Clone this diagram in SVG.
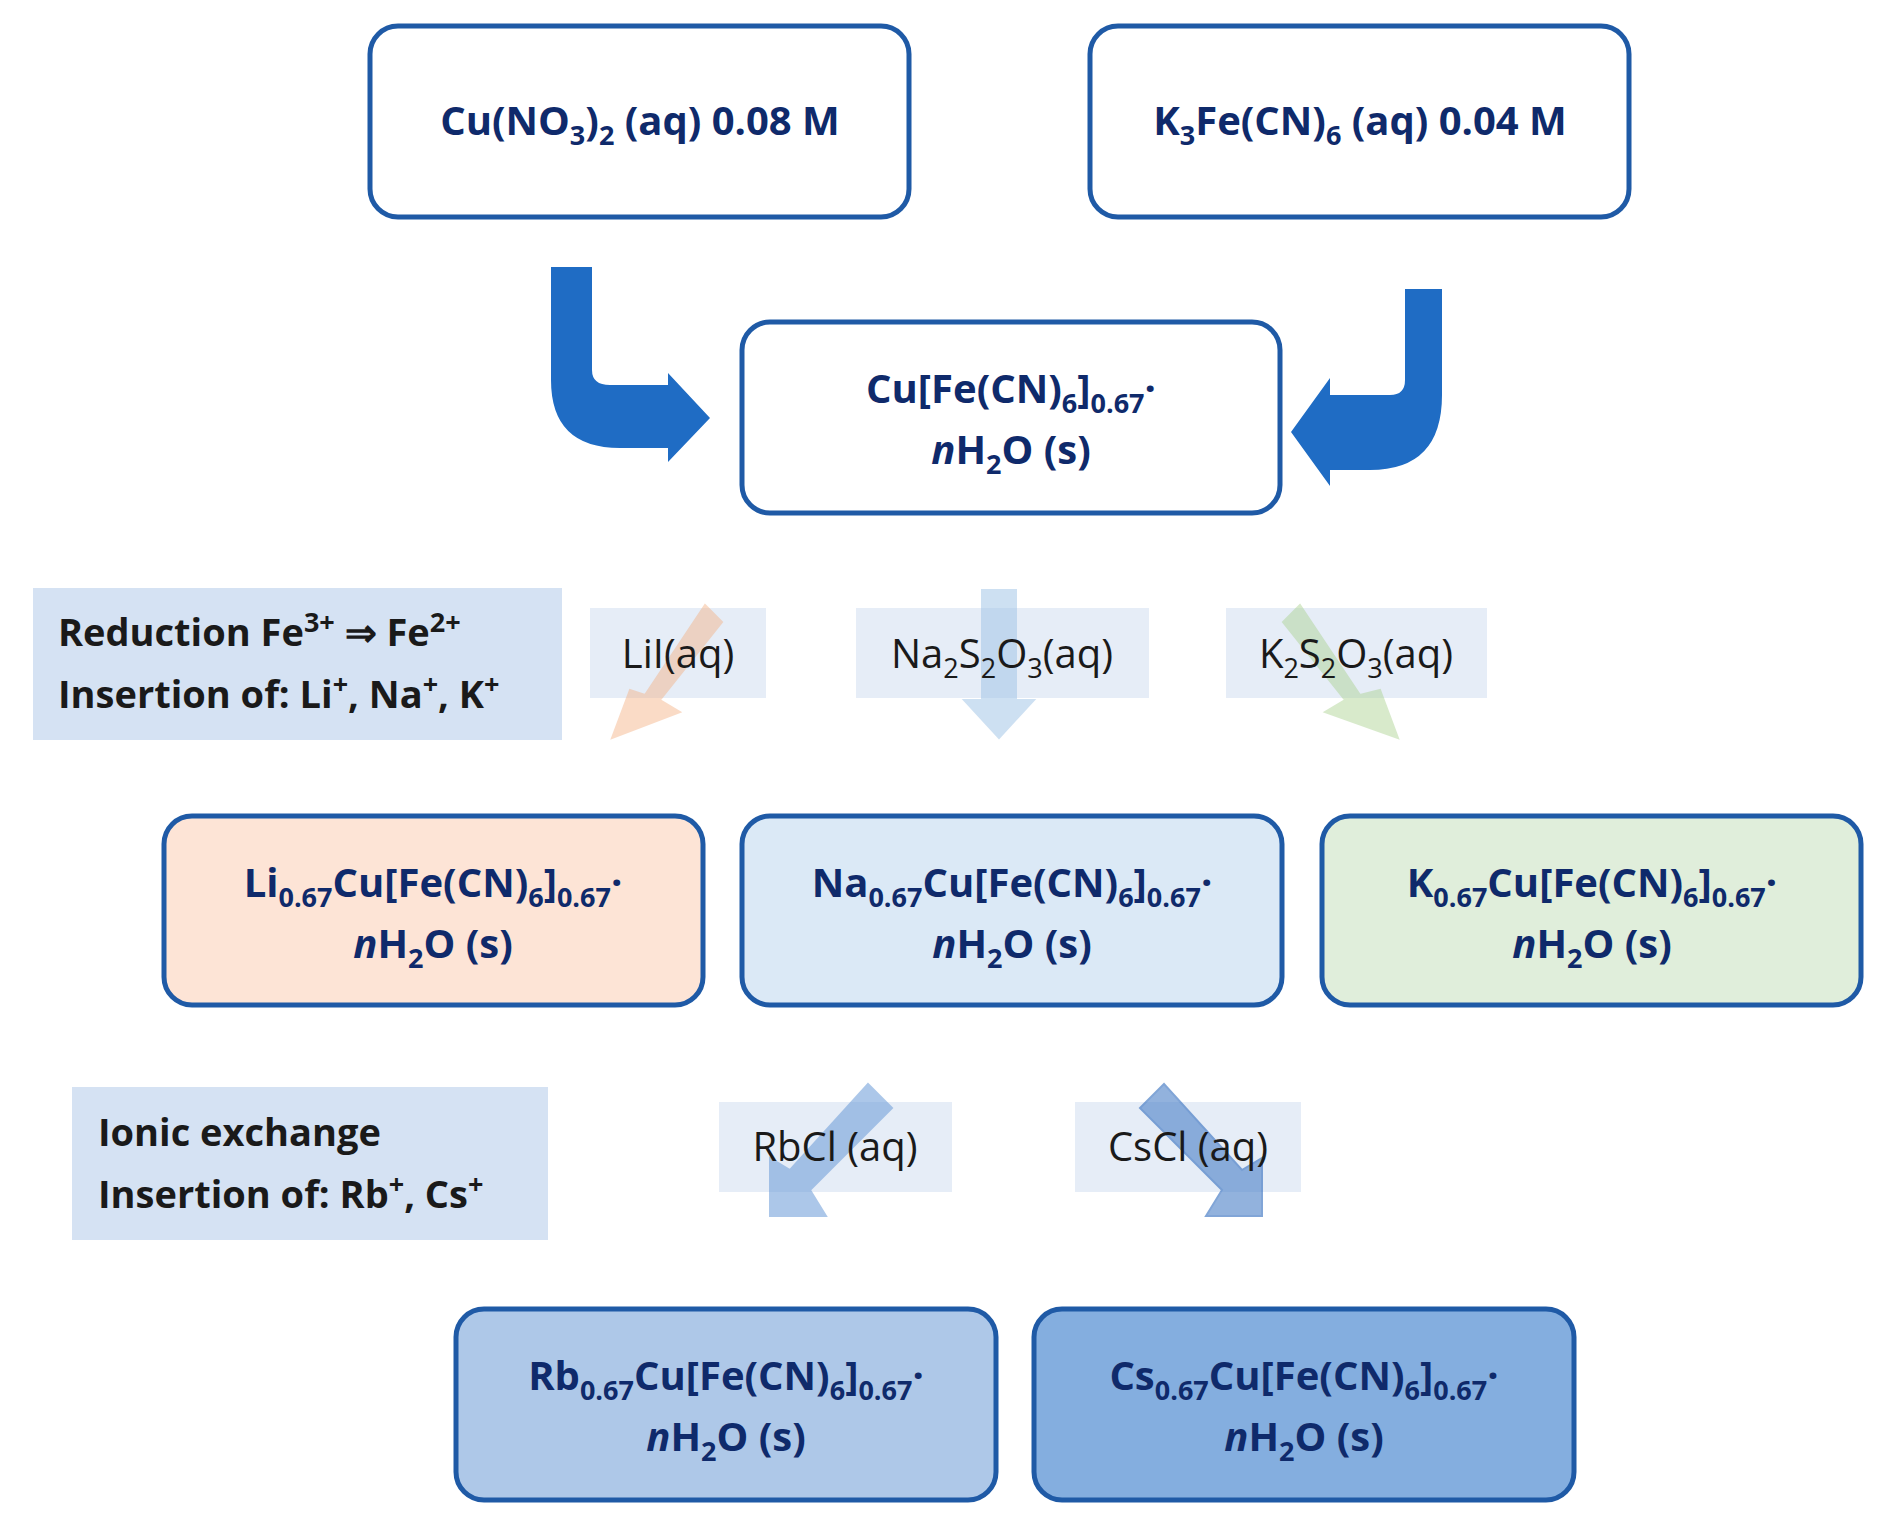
<svg xmlns="http://www.w3.org/2000/svg" width="1878" height="1527" viewBox="0 0 1878 1527">
<style>
.box{stroke:#1f5aa6;stroke-width:5}
.t{font-family:"Open Sans","Liberation Sans",sans-serif;font-weight:bold;font-size:40px;fill:#0f2a6b;text-anchor:middle}
.l{font-family:"Open Sans","Liberation Sans",sans-serif;font-size:40px;fill:#1a1a1a;text-anchor:middle}
.lb{font-family:"Open Sans","Liberation Sans",sans-serif;font-weight:bold;font-size:38px;fill:#1a1a1a}
.s{font-size:27px}
</style>
<g id="cuno3"><rect class="box" x="370" y="26" width="539" height="191" rx="28" fill="#fff"/><text class="t" x="640" y="135">Cu(NO<tspan class="s" dy="10">3</tspan><tspan dy="-10">)</tspan><tspan class="s" dy="10">2</tspan><tspan dy="-10"> (aq) 0.08 M</tspan></text></g>
<g id="k3fecn6"><rect class="box" x="1090" y="26" width="539" height="191" rx="28" fill="#fff"/><text class="t" x="1360" y="135">K<tspan class="s" dy="10">3</tspan><tspan dy="-10">Fe(CN)</tspan><tspan class="s" dy="10">6</tspan><tspan dy="-10"> (aq) 0.04 M</tspan></text></g>
<g id="cufecn"><rect class="box" x="742" y="322" width="538" height="191" rx="28" fill="#fff"/><text class="t" x="1011" y="403">Cu[Fe(CN)<tspan class="s" dy="10">6</tspan><tspan dy="-10">]</tspan><tspan class="s" dy="10">0.67</tspan><tspan dy="-10">·</tspan></text><text class="t" x="1011" y="464"><tspan font-style="italic">n</tspan>H<tspan class="s" dy="10">2</tspan><tspan dy="-10">O (s)</tspan></text></g>
<g id="reduction"><rect x="33" y="588" width="529" height="152" fill="#d5e2f3"/><text class="lb" x="58" y="646">Reduction Fe<tspan class="s" dy="-14">3+</tspan><tspan dy="14"> ⇒ Fe</tspan><tspan class="s" dy="-14">2+</tspan></text><text class="lb" x="58" y="708">Insertion of: Li<tspan class="s" dy="-14">+</tspan><tspan dy="14">, Na</tspan><tspan class="s" dy="-14">+</tspan><tspan dy="14">, K</tspan><tspan class="s" dy="-14">+</tspan></text></g>
<g id="ionic"><rect x="72" y="1087" width="476" height="153" fill="#d5e2f3"/><text class="lb" x="98" y="1146">Ionic exchange</text><text class="lb" x="98" y="1208">Insertion of: Rb<tspan class="s" dy="-14">+</tspan><tspan dy="14">, Cs</tspan><tspan class="s" dy="-14">+</tspan></text></g>
<g id="connectors">
<path d="M551 267 H592 V370 Q592 385 610 385 H668 V373 L710 418 L668 462 V448 H620 Q551 448 551 380 Z" fill="#1f6cc4"/>
<path d="M1405 289 H1442 V395 Q1442 470 1370 470 H1330 V486 L1291 432 L1330 378 V395 H1390 Q1405 395 1405 380 Z" fill="#1f6cc4"/>
<rect x="590" y="608" width="176" height="90" fill="#dce6f4" opacity="0.7"/>
<path d="M695 608 L712 625 L645 700 L662 717 L612 737 L610 725 L628 683 L645 700" fill="none"/>
<path d="M705 605 L722 622 L660 700 L680 712 L612 738 L630 690 L645 695 Z" fill="#f4b183" opacity="0.45" stroke="#f4b183" stroke-width="2"/>
<rect x="856" y="608" width="293" height="90" fill="#dce6f4" opacity="0.7"/>
<path d="M982 590 H1016 V700 H1034 L999 738 L964 700 H982 Z" fill="#9dc3e6" opacity="0.5" stroke="#9dc3e6" stroke-width="2"/>
<rect x="1226" y="608" width="261" height="90" fill="#dce6f4" opacity="0.7"/>
<path d="M1300 605 L1283 622 L1345 700 L1325 712 L1398 738 L1380 690 L1360 695 Z" fill="#a9d18e" opacity="0.45" stroke="#a9d18e" stroke-width="2"/>
<rect x="719" y="1102" width="233" height="90" fill="#dce6f4" opacity="0.7"/>
<path d="M868 1084 L892 1108 L810 1190 L826 1216 L770 1216 V1158 L790 1170 Z" fill="#6a9bd8" opacity="0.55" stroke="#6a9bd8" stroke-width="2"/>
<rect x="1075" y="1102" width="226" height="90" fill="#dce6f4" opacity="0.7"/>
<path d="M1164 1084 L1140 1108 L1222 1190 L1206 1216 L1262 1216 V1158 L1242 1170 Z" fill="#4a80c8" opacity="0.6" stroke="#2f6bbd" stroke-width="2"/>
</g>
<text class="l" x="678" y="668">LiI(aq)</text>
<text class="l" x="1002" y="668">Na<tspan class="s" dy="10">2</tspan><tspan dy="-10">S</tspan><tspan class="s" dy="10">2</tspan><tspan dy="-10">O</tspan><tspan class="s" dy="10">3</tspan><tspan dy="-10">(aq)</tspan></text>
<text class="l" x="1356" y="668">K<tspan class="s" dy="10">2</tspan><tspan dy="-10">S</tspan><tspan class="s" dy="10">2</tspan><tspan dy="-10">O</tspan><tspan class="s" dy="10">3</tspan><tspan dy="-10">(aq)</tspan></text>
<text class="l" x="835" y="1161">RbCl (aq)</text>
<text class="l" x="1188" y="1161">CsCl (aq)</text>
<g id="li"><rect class="box" x="164" y="816" width="539" height="189" rx="28" fill="#fde4d6"/><text class="t" x="433" y="897">Li<tspan class="s" dy="10">0.67</tspan><tspan dy="-10">Cu[Fe(CN)</tspan><tspan class="s" dy="10">6</tspan><tspan dy="-10">]</tspan><tspan class="s" dy="10">0.67</tspan><tspan dy="-10">·</tspan></text><text class="t" x="433" y="958"><tspan font-style="italic">n</tspan>H<tspan class="s" dy="10">2</tspan><tspan dy="-10">O (s)</tspan></text></g>
<g id="na"><rect class="box" x="742" y="816" width="540" height="189" rx="28" fill="#dbe9f6"/><text class="t" x="1012" y="897">Na<tspan class="s" dy="10">0.67</tspan><tspan dy="-10">Cu[Fe(CN)</tspan><tspan class="s" dy="10">6</tspan><tspan dy="-10">]</tspan><tspan class="s" dy="10">0.67</tspan><tspan dy="-10">·</tspan></text><text class="t" x="1012" y="958"><tspan font-style="italic">n</tspan>H<tspan class="s" dy="10">2</tspan><tspan dy="-10">O (s)</tspan></text></g>
<g id="k"><rect class="box" x="1322" y="816" width="539" height="189" rx="28" fill="#e0eedb"/><text class="t" x="1592" y="897">K<tspan class="s" dy="10">0.67</tspan><tspan dy="-10">Cu[Fe(CN)</tspan><tspan class="s" dy="10">6</tspan><tspan dy="-10">]</tspan><tspan class="s" dy="10">0.67</tspan><tspan dy="-10">·</tspan></text><text class="t" x="1592" y="958"><tspan font-style="italic">n</tspan>H<tspan class="s" dy="10">2</tspan><tspan dy="-10">O (s)</tspan></text></g>
<g id="rb"><rect class="box" x="456" y="1309" width="540" height="191" rx="28" fill="#aec8e8"/><text class="t" x="726" y="1390">Rb<tspan class="s" dy="10">0.67</tspan><tspan dy="-10">Cu[Fe(CN)</tspan><tspan class="s" dy="10">6</tspan><tspan dy="-10">]</tspan><tspan class="s" dy="10">0.67</tspan><tspan dy="-10">·</tspan></text><text class="t" x="726" y="1451"><tspan font-style="italic">n</tspan>H<tspan class="s" dy="10">2</tspan><tspan dy="-10">O (s)</tspan></text></g>
<g id="cs"><rect class="box" x="1034" y="1309" width="540" height="191" rx="28" fill="#84aedf"/><text class="t" x="1304" y="1390">Cs<tspan class="s" dy="10">0.67</tspan><tspan dy="-10">Cu[Fe(CN)</tspan><tspan class="s" dy="10">6</tspan><tspan dy="-10">]</tspan><tspan class="s" dy="10">0.67</tspan><tspan dy="-10">·</tspan></text><text class="t" x="1304" y="1451"><tspan font-style="italic">n</tspan>H<tspan class="s" dy="10">2</tspan><tspan dy="-10">O (s)</tspan></text></g>
</svg>
